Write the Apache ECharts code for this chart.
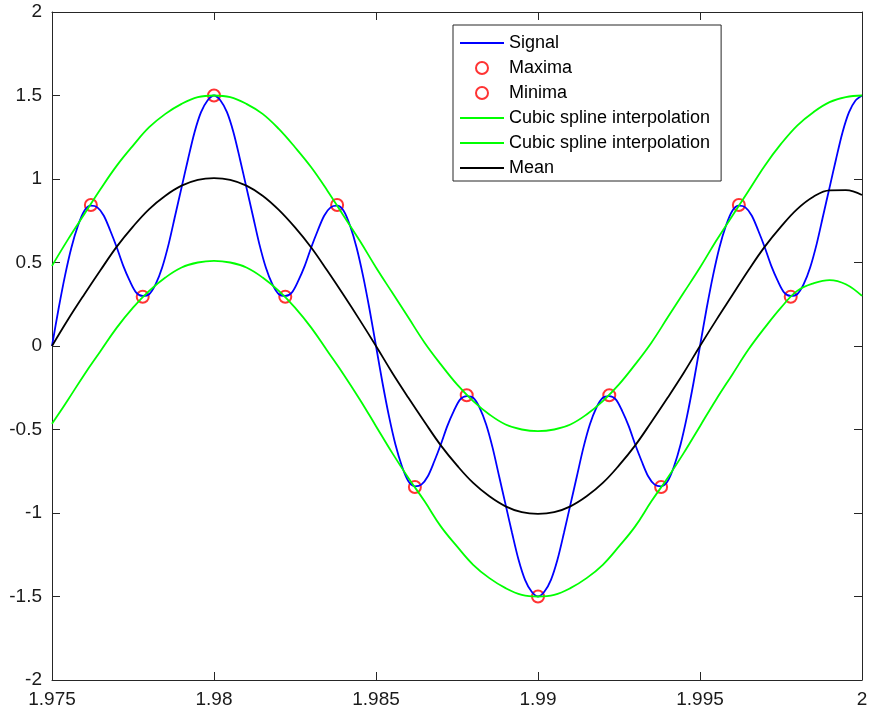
<!DOCTYPE html>
<html>
<head>
<meta charset="utf-8">
<script src="https://cdn.jsdelivr.net/npm/echarts@6/dist/echarts.min.js"></script>
<style>html,body{margin:0;padding:0;background:#fff}#c{width:871px;height:716px}</style>
</head>
<body>
<div id="c"></div>
<script>
// x sampling grids
var sigStart = 1.975, sigStep = 0.0002;
var envStart = 1.975, envStep = 0.0005;

// Signal (blue), read every 0.0002 from 1.975 to 2
var signal = [0, 0.22, 0.42, 0.59, 0.72, 0.81, 0.84, 0.83, 0.78, 0.69, 0.59, 0.48, 0.39, 0.32, 0.30, 0.31, 0.37, 0.47, 0.61, 0.78, 0.95, 1.12, 1.28, 1.40, 1.47, 1.50, 1.47, 1.40, 1.28, 1.12, 0.95, 0.78, 0.61, 0.47, 0.37, 0.31, 0.30, 0.32, 0.39, 0.48, 0.59, 0.69, 0.78, 0.83, 0.84, 0.81, 0.72, 0.59, 0.42, 0.22, 0,
  -0.22, -0.42, -0.59, -0.72, -0.81, -0.84, -0.83, -0.78, -0.69, -0.59, -0.48, -0.39, -0.32, -0.30, -0.31, -0.37, -0.47, -0.61, -0.78, -0.95, -1.12, -1.28, -1.40, -1.47, -1.50, -1.47, -1.40, -1.28, -1.12, -0.95, -0.78, -0.61, -0.47, -0.37, -0.31, -0.30, -0.32, -0.39, -0.48, -0.59, -0.69, -0.78, -0.83, -0.84, -0.81, -0.72, -0.59, -0.42, -0.22, 0,
  0.22, 0.42, 0.59, 0.72, 0.81, 0.84, 0.83, 0.78, 0.69, 0.59, 0.48, 0.39, 0.32, 0.30, 0.31, 0.37, 0.47, 0.61, 0.78, 0.95, 1.12, 1.28, 1.40, 1.47, 1.50];

// Maxima / minima markers
var maxX = [1.9762, 1.9800, 1.9838, 1.9878, 1.9922, 1.9962];
var maxY = [0.844, 1.5, 0.844, -0.295, -0.295, 0.844];
var minX = [1.9778, 1.9822, 1.9862, 1.9900, 1.9938, 1.9978];
var minY = [0.295, 0.295, -0.844, -1.5, -0.844, 0.295];

// Envelopes and mean, read every 0.0005 from 1.975 to 2
var upper = [0.48, 0.64, 0.79, 0.94, 1.08, 1.20, 1.31, 1.39, 1.45, 1.49, 1.50,
  1.49, 1.45, 1.39, 1.30, 1.19, 1.07, 0.93, 0.78, 0.63, 0.47,
  0.32, 0.17, 0.02, -0.11, -0.23, -0.33, -0.41, -0.47, -0.50, -0.51,
  -0.50, -0.47, -0.41, -0.33, -0.23, -0.11, 0.02, 0.17, 0.32, 0.47,
  0.63, 0.78, 0.93, 1.08, 1.21, 1.32, 1.40, 1.46, 1.49, 1.50];
var lower = [-0.466, -0.32, -0.17, -0.03, 0.11, 0.23, 0.33, 0.41, 0.47, 0.50, 0.51,
  0.50, 0.47, 0.41, 0.33, 0.23, 0.11, -0.03, -0.17, -0.32, -0.48,
  -0.64, -0.79, -0.93, -1.08, -1.20, -1.31, -1.39, -1.45, -1.49, -1.50,
  -1.49, -1.45, -1.39, -1.31, -1.20, -1.08, -0.93, -0.79, -0.64, -0.48,
  -0.32, -0.17, -0.02, 0.11, 0.23, 0.33, 0.375, 0.395, 0.37, 0.30];
var mean = [0.00, 0.16, 0.31, 0.455, 0.595, 0.715, 0.82, 0.90, 0.96, 0.995, 1.005,
  0.995, 0.96, 0.90, 0.815, 0.71, 0.59, 0.45, 0.305, 0.155, 0.00,
  -0.16, -0.31, -0.455, -0.595, -0.715, -0.82, -0.90, -0.96, -0.995, -1.005,
  -0.995, -0.96, -0.90, -0.82, -0.715, -0.595, -0.455, -0.31, -0.16, 0.00,
  0.155, 0.305, 0.455, 0.595, 0.715, 0.82, 0.894, 0.932, 0.933, 0.904];

var xTickLabels = ['1.975', '1.98', '1.985', '1.99', '1.995', '2'];
var yTickLabels = ['-2', '-1.5', '-1', '-0.5', '0', '0.5', '1', '1.5', '2'];

var legendNames = ['Signal', 'Maxima', 'Minima', 'Cubic spline interpolation', 'Cubic spline interpolation ', 'Mean'];

function pairs(start, step, ys) {
  return ys.map(function (y, i) { return [+(start + i * step).toFixed(5), y]; });
}
function zip(xs, ys) { return xs.map(function (x, i) { return [x, ys[i]]; }); }

var FONT = 'Liberation Sans';
var axisColor = '#262626';
var hiddenSym = {opacity: 0};
var circleSym = {color: 'rgba(255,255,255,0)', borderColor: '#ff0000', borderWidth: 2};

var chart = echarts.init(document.getElementById('c'), null, {renderer: 'canvas'});
var lw = 1.8;
chart.setOption({
  backgroundColor: '#ffffff',
  animation: false,
  grid: {left: 52, right: 9, top: 12, bottom: 36, containLabel: false},
  xAxis: [{
    type: 'value', min: 1.975, max: 2, interval: 0.005, position: 'bottom',
    axisLine: {show: true, onZero: false, lineStyle: {color: axisColor, width: 1}},
    axisTick: {show: true, inside: true, length: 8, lineStyle: {color: axisColor}},
    splitLine: {show: false},
    axisLabel: {show: true, margin: 10, fontFamily: FONT, fontSize: 19, color: '#1a1a1a',
      formatter: function (v) { var i = Math.round((v - 1.975) / 0.005); return xTickLabels[i]; }}
  }, {
    type: 'value', min: 1.975, max: 2, interval: 0.005, position: 'top',
    axisLine: {show: true, onZero: false, lineStyle: {color: axisColor, width: 1}},
    axisTick: {show: true, inside: true, length: 8, lineStyle: {color: axisColor}},
    splitLine: {show: false}, axisLabel: {show: false}
  }],
  yAxis: [{
    type: 'value', min: -2, max: 2, interval: 0.5, position: 'left',
    axisLine: {show: true, onZero: false, lineStyle: {color: axisColor, width: 1}},
    axisTick: {show: true, inside: true, length: 8, lineStyle: {color: axisColor}},
    splitLine: {show: false},
    axisLabel: {show: true, margin: 10, fontFamily: FONT, fontSize: 19, color: '#1a1a1a',
      formatter: function (v) { var i = Math.round((v + 2) / 0.5); return yTickLabels[i]; }}
  }, {
    type: 'value', min: -2, max: 2, interval: 0.5, position: 'right',
    axisLine: {show: true, onZero: false, lineStyle: {color: axisColor, width: 1}},
    axisTick: {show: true, inside: true, length: 8, lineStyle: {color: axisColor}},
    splitLine: {show: false}, axisLabel: {show: false}
  }],
  legend: {
    orient: 'vertical', left: 453, top: 25,
    padding: [9, 6, 4, 6], itemGap: 7, itemWidth: 44, itemHeight: 12,
    backgroundColor: '#ffffff', borderColor: axisColor, borderWidth: 1, borderRadius: 0,
    textStyle: {fontFamily: FONT, fontSize: 18, color: '#000'},
    data: [
      {name: legendNames[0], itemStyle: hiddenSym},
      {name: legendNames[1], icon: 'circle', itemStyle: circleSym},
      {name: legendNames[2], icon: 'circle', itemStyle: circleSym},
      {name: legendNames[3], itemStyle: hiddenSym},
      {name: legendNames[4], itemStyle: hiddenSym},
      {name: legendNames[5], itemStyle: hiddenSym}
    ]
  },
  series: [
    {name: legendNames[0], type: 'line', data: pairs(sigStart, sigStep, signal), smooth: 0.3, symbol: 'none',
      lineStyle: {color: '#0000ff', width: lw}, itemStyle: {color: '#0000ff'}},
    {name: legendNames[1], type: 'scatter', data: zip(maxX, maxY), symbol: 'circle', symbolSize: 12,
      itemStyle: circleSym},
    {name: legendNames[2], type: 'scatter', data: zip(minX, minY), symbol: 'circle', symbolSize: 12,
      itemStyle: circleSym},
    {name: legendNames[3], type: 'line', data: pairs(envStart, envStep, upper), smooth: 0.4, symbol: 'none',
      lineStyle: {color: '#00ff00', width: lw}, itemStyle: {color: '#00ff00'}},
    {name: legendNames[4], type: 'line', data: pairs(envStart, envStep, lower), smooth: 0.4, symbol: 'none',
      lineStyle: {color: '#00ff00', width: lw}, itemStyle: {color: '#00ff00'}},
    {name: legendNames[5], type: 'line', data: pairs(envStart, envStep, mean), smooth: 0.4, symbol: 'none',
      lineStyle: {color: '#000000', width: lw}, itemStyle: {color: '#000000'}}
  ]
});
</script>
</body>
</html>
